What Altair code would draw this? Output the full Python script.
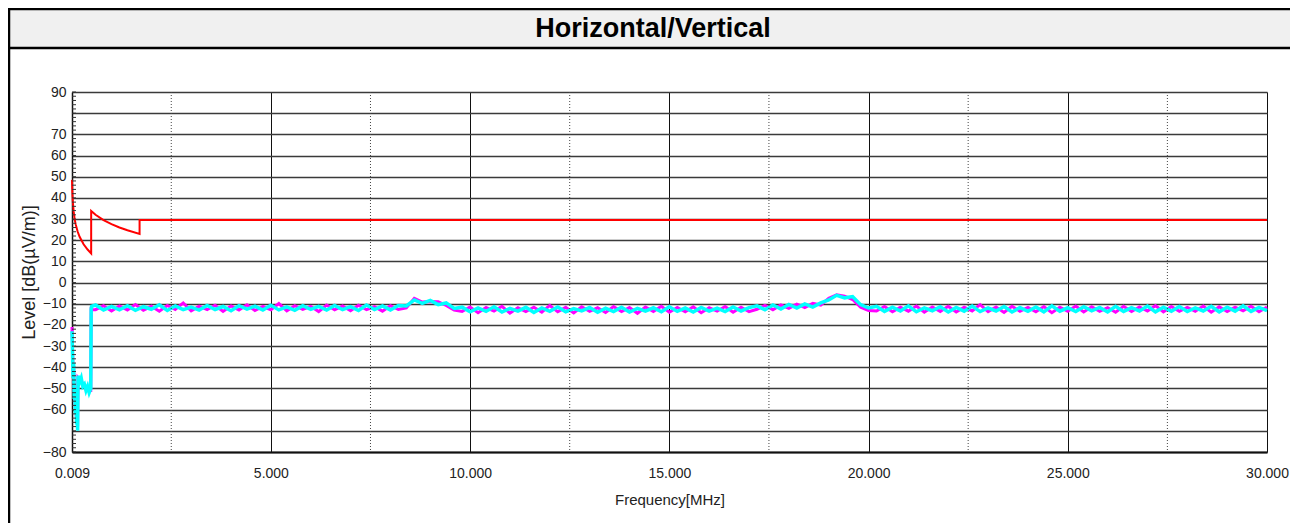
import altair as alt
import pandas as pd

TITLE = "Horizontal/Vertical"
X_TITLE = "Frequency[MHz]"
Y_TITLE = "Level [dB(µV/m)]"

X_TICKS = [0.009, 5, 10, 15, 20, 25, 30]
X_MID = [2.5, 7.5, 12.5, 17.5, 22.5, 27.5]
Y_TICKS = [-80, -70, -60, -50, -40, -30, -20, -10, 0, 10, 20, 30, 40, 50, 60, 70, 80, 90]
Y_MINOR = list(range(-80, 91, 2))

# limit line (red)
F_LIM = [0.009, 0.015, 0.02, 0.03, 0.05, 0.075, 0.1, 0.15, 0.2, 0.3, 0.4, 0.49,
         0.49, 0.6, 0.8, 1.0, 1.2, 1.4, 1.705, 1.705, 30.0]
L_LIM = [48.5, 44.1, 41.6, 38.1, 33.6, 30.1, 27.6, 24.1, 21.6, 18.1, 15.6, 13.8,
         33.8, 32.0, 29.5, 27.6, 26.0, 24.7, 23.0, 29.5, 29.5]

# low-frequency part of the traces
F_LOW = [0.009, 0.02, 0.035, 0.05, 0.065, 0.08, 0.095, 0.11, 0.125, 0.14, 0.15,
         0.16, 0.2, 0.24, 0.28, 0.32, 0.36, 0.40, 0.44, 0.48, 0.49, 0.5]
V_LOW = [-23, -32, -45, -38, -55, -50, -62, -58, -67, -63, -70,
         -44, -47, -45, -49, -48, -51, -49, -52, -50, -12.5, -11.2]
H_LOW = [-21, -30, -42, -40, -52, -53, -60, -60, -65, -66, -68,
         -45, -46, -46, -48, -49, -50, -50, -51, -51, -11.5, -12.8]

F_MAIN = [0.6, 0.8, 1.0, 1.2, 1.4, 1.6, 1.8, 2.0, 2.2, 2.4,
          2.6, 2.8, 3.0, 3.2, 3.4, 3.6, 3.8, 4.0, 4.2, 4.4,
          4.6, 4.8, 5.0, 5.2, 5.4, 5.6, 5.8, 6.0, 6.2, 6.4,
          6.6, 6.8, 7.0, 7.2, 7.4, 7.6, 7.8, 8.0, 8.2, 8.4,
          8.6, 8.8, 9.0, 9.2, 9.4, 9.6, 9.8, 10.0, 10.2, 10.4,
          10.6, 10.8, 11.0, 11.2, 11.4, 11.6, 11.8, 12.0, 12.2, 12.4,
          12.6, 12.8, 13.0, 13.2, 13.4, 13.6, 13.8, 14.0, 14.2, 14.4,
          14.6, 14.8, 15.0, 15.2, 15.4, 15.6, 15.8, 16.0, 16.2, 16.4,
          16.6, 16.8, 17.0, 17.2, 17.4, 17.6, 17.8, 18.0, 18.2, 18.4,
          18.6, 18.8, 19.0, 19.2, 19.4, 19.6, 19.8, 20.0, 20.2, 20.4,
          20.6, 20.8, 21.0, 21.2, 21.4, 21.6, 21.8, 22.0, 22.2, 22.4,
          22.6, 22.8, 23.0, 23.2, 23.4, 23.6, 23.8, 24.0, 24.2, 24.4,
          24.6, 24.8, 25.0, 25.2, 25.4, 25.6, 25.8, 26.0, 26.2, 26.4,
          26.6, 26.8, 27.0, 27.2, 27.4, 27.6, 27.8, 28.0, 28.2, 28.4,
          28.6, 28.8, 29.0, 29.2, 29.4, 29.6, 29.8, 30.0]

# vertical polarisation (cyan)
V_MAIN = [-10.6, -13.0, -11.2, -12.9, -10.9, -13.1, -11.4, -12.6, -10.5, -13.2,
          -11.0, -12.8, -11.6, -13.0, -10.8, -12.7, -11.3, -13.3, -10.9, -12.5,
          -11.1, -13.0, -10.7, -12.9, -11.5, -13.1, -10.9, -12.6, -11.2, -13.0,
          -10.8, -12.8, -11.4, -13.2, -10.6, -12.7, -11.0, -12.9, -10.8,
          -11.0, -8.2, -9.8, -8.4, -10.4, -9.6, -12.2,
          -11.6, -13.8, -12.0, -13.6, -11.4, -13.9, -12.2, -13.5, -11.7, -14.1,
          -12.0, -13.6, -11.5, -13.8, -12.3, -13.4, -11.8, -14.0, -12.1, -13.7,
          -11.6, -13.9, -12.2, -13.5, -11.9, -13.8, -11.4, -13.6, -12.0, -13.9,
          -11.7, -13.5, -12.1, -13.7, -11.5, -13.4, -11.8,
          -11.0, -12.8, -10.6, -12.5, -10.3, -12.0, -10.1, -11.6, -9.6, -8.2,
          -6.0, -7.2, -6.6, -10.4, -12.0,
          -11.2, -13.6, -11.6, -13.4, -11.0, -13.8, -11.9, -13.3, -11.4, -13.9,
          -11.7, -13.5, -11.1, -13.7, -12.0, -13.4, -11.3, -13.9, -11.8, -13.6,
          -11.5, -13.8, -11.0, -13.5, -11.9, -13.7, -11.4, -13.3, -11.7, -13.9,
          -11.2, -13.6, -11.8, -13.4, -11.1, -13.8, -11.6, -13.5, -11.3, -13.7,
          -11.9, -13.4, -11.2, -13.8, -11.6, -13.5, -11.0, -13.6, -11.7, -13.2]

# horizontal polarisation (magenta)
H_MAIN = [-12.8, -10.9, -13.4, -11.0, -12.9, -10.4, -13.1, -11.2, -13.5, -10.8,
          -12.7, -9.6, -13.3, -11.1, -12.8, -10.7, -13.6, -11.0, -12.9, -10.5,
          -13.2, -11.3, -12.8, -9.9, -13.4, -10.9, -12.6, -11.2, -13.7, -10.6,
          -12.9, -11.0, -13.3, -10.7, -12.8, -11.4, -13.5, -10.9, -12.7,
          -12.0, -7.4, -9.2, -8.9, -9.0, -10.8, -13.0,
          -13.6, -11.5, -14.2, -11.8, -13.5, -11.2, -14.4, -11.9, -13.7, -11.6,
          -14.0, -10.8, -13.8, -11.7, -14.3, -11.4, -13.6, -11.9, -14.1, -11.3,
          -13.7, -11.8, -14.5, -11.5, -13.6, -11.2, -14.0, -11.7, -13.8, -11.4,
          -14.2, -11.9, -13.5, -11.3, -14.0, -11.6, -13.7,
          -12.6, -10.8, -12.8, -10.6, -12.2, -10.2, -11.8, -9.8, -10.6, -7.4,
          -5.8, -6.4, -8.0, -11.6, -13.2,
          -13.4, -11.3, -13.8, -11.6, -13.5, -11.1, -14.0, -11.5, -13.6, -11.2,
          -13.9, -11.6, -13.4, -10.4, -13.7, -11.5, -14.1, -11.2, -13.5, -11.7,
          -13.8, -11.3, -14.2, -11.6, -13.5, -11.1, -13.9, -11.4, -13.6, -11.8,
          -14.0, -11.2, -13.7, -11.5, -13.4, -10.9, -13.8, -11.3, -13.6, -11.7,
          -13.5, -11.1, -14.0, -11.4, -13.7, -11.6, -13.3, -11.2, -13.8, -11.5]

LABEL_FONT = "Liberation Sans"

W, H = 1195, 360

lim_df = pd.DataFrame({"f": F_LIM, "level": L_LIM, "i": list(range(len(F_LIM)))})
F_ALL = F_LOW + F_MAIN
v_df = pd.DataFrame({"f": F_ALL, "level": V_LOW + V_MAIN, "i": list(range(len(F_ALL)))})
h_df = pd.DataFrame({"f": F_ALL, "level": H_LOW + H_MAIN, "i": list(range(len(F_ALL)))})

x_scale = alt.Scale(domain=[0.009, 30], nice=False, zero=False)
y_scale = alt.Scale(domain=[-80, 90], nice=False, zero=False)

x_axis = alt.Axis(
    values=X_TICKS, format=".3f", title=X_TITLE, ticks=False,
    labelFont=LABEL_FONT, labelFontSize=14, labelColor="#222", labelPadding=14,
    labelFlush=False, labelOverlap=False,
    titleFont=LABEL_FONT, titleFontSize=15, titleFontWeight="normal", titleColor="#222",
    titlePadding=12,
    domainColor="#111", domainWidth=2,
    grid=True, gridColor="#111", gridWidth=1,
)
y_axis = alt.Axis(
    values=Y_TICKS, title=Y_TITLE, ticks=False,
    labelExpr="indexof([80, -70], datum.value) >= 0 ? '' : datum.label",
    labelFont=LABEL_FONT, labelFontSize=14, labelColor="#222", labelPadding=6,
    labelFlush=False, labelOverlap=False,
    titleFont=LABEL_FONT, titleFontSize=18, titleFontWeight="normal", titleColor="#222",
    titlePadding=4,
    domainColor="#111", domainWidth=1.5,
    grid=True, gridColor="#3a3a3a", gridWidth=1.5,
)

X = alt.X("f:Q", scale=x_scale, axis=x_axis)
Y = alt.Y("level:Q", scale=y_scale, axis=y_axis)

h_line = alt.Chart(h_df).mark_line(color="#ff00ff", strokeWidth=3).encode(
    x=X, y=Y, order="i:Q")
v_line = alt.Chart(v_df).mark_line(color="#00ffff", strokeWidth=3.5).encode(
    x=X, y=Y, order="i:Q")
red = alt.Chart(lim_df).mark_line(color="#ff0000", strokeWidth=2).encode(
    x=X, y=Y, order="i:Q")

mid = alt.Chart(pd.DataFrame({"f": X_MID})).mark_rule(
    color="#444", strokeWidth=1, strokeDash=[1, 2]
).encode(x=X)

minor = alt.Chart(pd.DataFrame({"level": Y_MINOR})).mark_rule(
    color="#333", strokeWidth=1
).encode(y=Y, x=alt.value(0), x2=alt.value(4))

one = pd.DataFrame({"t": [TITLE]})
band = alt.Chart(one).mark_rect(fill="#f0f0f0", stroke="#000", strokeWidth=2.5).encode(
    x=alt.value(-63), x2=alt.value(1240), y=alt.value(-83), y2=alt.value(-44))
left_frame = alt.Chart(one).mark_rule(color="#000", strokeWidth=2.5).encode(
    x=alt.value(-63), y=alt.value(-44), y2=alt.value(450))
title_txt = alt.Chart(one).mark_text(
    font="Liberation Sans", fontSize=27, fontWeight="bold",
    color="#000", align="center", baseline="middle"
).encode(x=alt.value(581), y=alt.value(-63), text="t:N")

chart = alt.layer(
    h_line, v_line, red, mid, minor, band, left_frame, title_txt
).properties(
    width=W, height=H,
    autosize=alt.AutoSizeParams(type="none"),
    padding={"left": 64, "top": 84, "right": 23, "bottom": 71},
).configure_view(
    stroke="#666", strokeWidth=1.5
).configure(background="white")

chart.save("out.html", embed_options={"renderer": "svg", "actions": False})
